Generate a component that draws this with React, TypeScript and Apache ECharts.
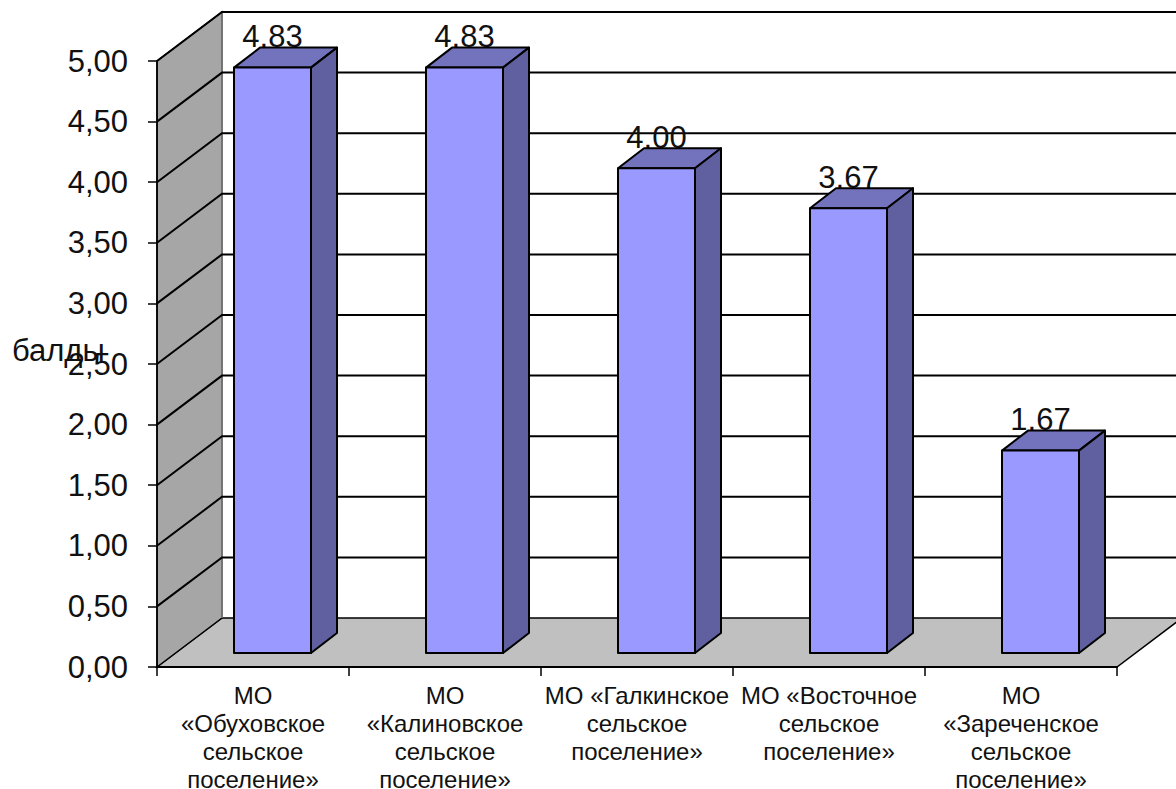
import React, { useEffect, useRef } from "react";
import * as echarts from "echarts";

const categories = [
  "МО\n«Обуховское\nсельское\nпоселение»",
  "МО\n«Калиновское\nсельское\nпоселение»",
  "МО «Галкинское\nсельское\nпоселение»",
  "МО «Восточное\nсельское\nпоселение»",
  "МО\n«Зареченское\nсельское\nпоселение»",
];
const scores = [4.83, 4.83, 4.0, 3.67, 1.67];
const yTicks = [0.5, 1, 1.5, 2, 2.5, 3, 3.5, 4, 4.5, 5];
const yTitle = "балды";

const DEPTH_X = 65;
const DEPTH_Y = 49;
const BAR_W = 77;
const BAR_SHIFT_X = 19.5;
const BAR_SHIFT_Y = 14;
const BAR_DX = 26;
const BAR_DY = 20;
const FONT = "'Liberation Sans', Arial, sans-serif";
const fmt = (v: number) => v.toFixed(2).replace(".", ",");

export default function App() {
  const ref = useRef<HTMLDivElement>(null);
  useEffect(() => {
    const chart = echarts.init(ref.current!, undefined, { renderer: "svg" });
    chart.setOption({
      animation: false,
      backgroundColor: "#ffffff",
      grid: { left: 157, right: 59, top: 61, bottom: 122, containLabel: false, outerBoundsMode: "none" },
      xAxis: {
        type: "category",
        data: categories,
        z: 5,
        axisLine: { show: true, lineStyle: { color: "#000", width: 2 } },
        axisTick: { show: true, length: 9, lineStyle: { color: "#000", width: 1.5 }, alignWithLabel: false },
        axisLabel: {
          interval: 0,
          hideOverlap: false,
          fontFamily: FONT,
          fontSize: 24,
          lineHeight: 28,
          color: "#111",
          margin: 14,
          verticalAlign: "top",
        },
      },
      yAxis: {
        type: "value",
        min: 0,
        max: 5,
        interval: 0.5,
        z: 5,
        splitLine: { show: false },
        axisLine: { show: true, onZero: false, lineStyle: { color: "#000", width: 1.5 } },
        axisTick: { show: true, length: 9, lineStyle: { color: "#000", width: 1.5 } },
        axisLabel: {
          fontFamily: FONT,
          fontSize: 31,
          color: "#111",
          margin: 29,
          formatter: (v: number) => fmt(v),
        },
      },
      graphic: [
        {
          type: "text",
          x: 12,
          y: 335,
          z: 10,
          style: { text: yTitle, font: `31px ${FONT}`, fill: "#111" },
        },
      ],
      series: [
        {
          type: "custom",
          name: "walls",
          z: 1,
          clip: false,
          silent: true,
          data: [0],
          renderItem: (params: any, api: any) => {
            const cs = params.coordSys;
            const o = api.coord([0, 0]);
            const l = cs.x;
            const b = o[1];
            const t = api.coord([0, 5])[1];
            const r = cs.x + cs.width;
            return {
              type: "group",
              children: [
                {
                  type: "polygon",
                  shape: { points: [[l, b], [l + DEPTH_X, b - DEPTH_Y], [r + DEPTH_X, b - DEPTH_Y], [r, b]] },
                  style: { fill: "#c0c0c0", stroke: "#000", lineWidth: 1.5 },
                },
                {
                  type: "polygon",
                  shape: { points: [[l, b], [l + DEPTH_X, b - DEPTH_Y], [l + DEPTH_X, t - DEPTH_Y], [l, t]] },
                  style: { fill: "#a6a6a6", stroke: "#000", lineWidth: 1.5 },
                },
                {
                  type: "line",
                  shape: { x1: l + DEPTH_X, y1: t - DEPTH_Y, x2: l + DEPTH_X, y2: b - DEPTH_Y },
                  style: { stroke: "#8a8a8a", lineWidth: 1.5 },
                },
              ],
            };
          },
        },
        {
          type: "custom",
          name: "gridlines",
          z: 2,
          clip: false,
          silent: true,
          data: yTicks.map((v) => [v]),
          encode: { y: 0 },
          renderItem: (params: any, api: any) => {
            const cs = params.coordSys;
            const y = api.coord([0, api.value(0)])[1];
            return {
              type: "polyline",
              shape: {
                points: [
                  [cs.x, y],
                  [cs.x + DEPTH_X, y - DEPTH_Y],
                  [cs.x + cs.width + DEPTH_X, y - DEPTH_Y],
                ],
              },
              style: { fill: "none", stroke: "#000", lineWidth: 2 },
            };
          },
        },
        {
          type: "custom",
          name: "баллы",
          z: 3,
          clip: false,
          silent: true,
          data: scores.map((v, i) => [i, v]),
          encode: { x: 0, y: 1 },
          renderItem: (_params: any, api: any) => {
            const idx = api.value(0);
            const v = api.value(1);
            const top = api.coord([idx, v]);
            const base = api.coord([idx, 0]);
            const x0 = top[0] + BAR_SHIFT_X - BAR_W / 2;
            const x1 = x0 + BAR_W;
            const yt = top[1] - BAR_SHIFT_Y;
            const yb = base[1] - BAR_SHIFT_Y;
            const stroke = { stroke: "#000", lineWidth: 2, lineJoin: "round" };
            return {
              type: "group",
              children: [
                {
                  type: "text",
                  style: {
                    x: (x0 + x1) / 2,
                    y: yt - 31,
                    text: fmt(v),
                    font: `31px ${FONT}`,
                    fill: "#111",
                    align: "center",
                    verticalAlign: "middle",
                  },
                },
                {
                  type: "polygon",
                  shape: { points: [[x0, yt], [x1, yt], [x1 + BAR_DX, yt - BAR_DY], [x0 + BAR_DX, yt - BAR_DY]] },
                  style: { fill: "#7373bd", ...stroke },
                },
                {
                  type: "polygon",
                  shape: { points: [[x1, yt], [x1 + BAR_DX, yt - BAR_DY], [x1 + BAR_DX, yb - BAR_DY], [x1, yb]] },
                  style: { fill: "#6060a0", ...stroke },
                },
                {
                  type: "rect",
                  shape: { x: x0, y: yt, width: BAR_W, height: yb - yt },
                  style: { fill: "#9999ff", ...stroke },
                },
              ],
            };
          },
        },
      ],
    });
    return () => chart.dispose();
  }, []);
  return (
    <div
      ref={ref}
      style={{ position: "fixed", left: 0, top: 0, width: 1176, height: 789 }}
    />
  );
}
